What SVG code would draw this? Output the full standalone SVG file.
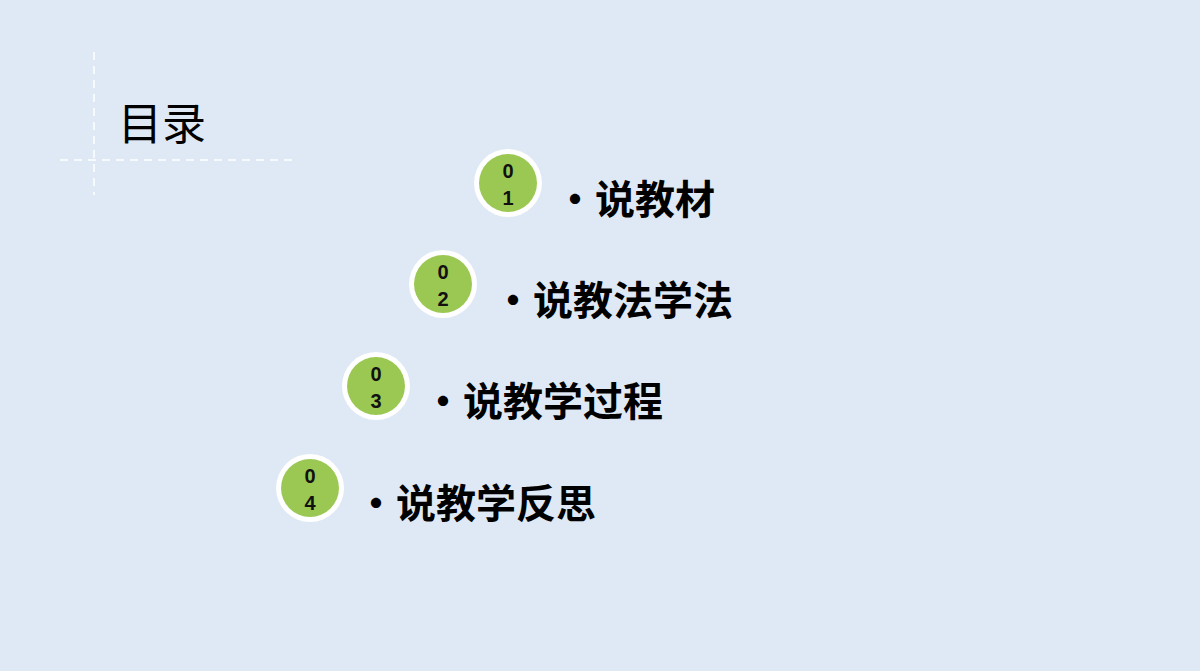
<svg xmlns="http://www.w3.org/2000/svg" width="1200" height="671" viewBox="0 0 1200 671">
<style>
.d{stroke:#ffffff;stroke-width:1.5;stroke-dasharray:8 6;fill:none}
.o{fill:#ffffff}
.g{fill:#9bc852}
.n{font-family:"Liberation Sans",Arial,sans-serif;font-weight:bold;font-size:20px;fill:#111;text-anchor:middle}
.t{font-family:"Noto Sans CJK SC",sans-serif;font-weight:bold;font-size:40px;fill:#000}
</style>
<rect width="1200" height="671" fill="#dfe9f5"/>
<line class="d" x1="94" y1="52" x2="94" y2="195"/>
<line class="d" x1="60" y1="160" x2="295" y2="160"/>
<text x="118" y="140" style="font-family:'Noto Sans CJK SC',sans-serif;font-size:44px;fill:#000">目录</text>
<g id="item1"><circle class="o" cx="508" cy="183" r="34"/><circle class="g" cx="508" cy="183" r="29"/><text class="n" x="508" y="178">0</text><text class="n" x="508" y="205">1</text><text class="t" x="555" y="214">•说教材</text></g>
<g id="item2"><circle class="o" cx="443" cy="284" r="34"/><circle class="g" cx="443" cy="284" r="29"/><text class="n" x="443" y="279">0</text><text class="n" x="443" y="306">2</text><text class="t" x="493" y="315">•说教法学法</text></g>
<g id="item3"><circle class="o" cx="376" cy="386" r="34"/><circle class="g" cx="376" cy="386" r="29"/><text class="n" x="376" y="381">0</text><text class="n" x="376" y="408">3</text><text class="t" x="423" y="416">•说教学过程</text></g>
<g id="item4"><circle class="o" cx="310" cy="488" r="34"/><circle class="g" cx="310" cy="488" r="29"/><text class="n" x="310" y="483">0</text><text class="n" x="310" y="510">4</text><text class="t" x="356" y="518">•说教学反思</text></g>
<g id="connectors"/>
</svg>
